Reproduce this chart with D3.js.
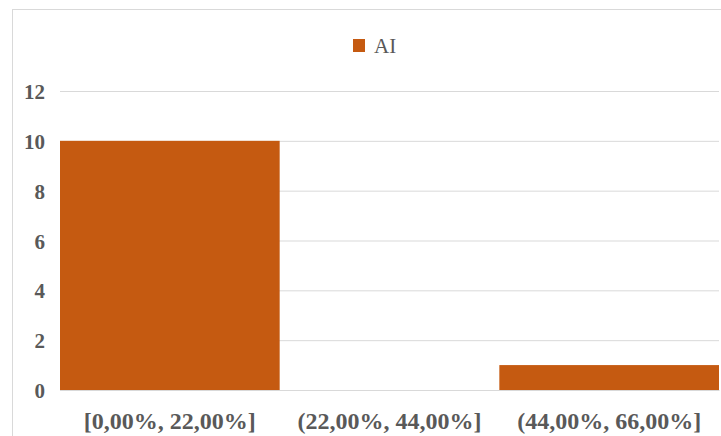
<!DOCTYPE html>
<html><head><meta charset="utf-8">
<script src="https://cdn.jsdelivr.net/npm/d3@7"></script>
<style>body{margin:0;background:#fff}svg{display:block}</style>
</head><body>
<script>
const categories = ["[0,00%, 22,00%]", "(22,00%, 44,00%]", "(44,00%, 66,00%]"];
const values = [10, 0, 1];
const seriesName = "AI";
const yTicks = [0, 2, 4, 6, 8, 10, 12];

(function () {
const W = 721, H = 436;
const svg = d3.select("body").append("svg").attr("width", W).attr("height", H);
const font = "'Liberation Serif','Times New Roman',serif";
const textColor = "#595959";
const barColor = "#C55A11";

// chart border
svg.append("rect").attr("x", 12.5).attr("y", 9.5).attr("width", W + 10).attr("height", H + 10)
  .attr("fill", "none").attr("stroke", "#d9d9d9").attr("stroke-width", 1);

const mLeft = 60, mRight = 719, mTop = 91, mBottom = 390;
const x = d3.scaleBand().domain(categories).range([mLeft, mRight]).paddingInner(0).paddingOuter(0);
const y = d3.scaleLinear().domain([0, 12]).range([mBottom, mTop]);

// gridlines
const yAxis = d3.axisLeft(y).tickValues(yTicks).tickSize(-(mRight - mLeft)).tickPadding(15);
const gy = svg.append("g").attr("transform", `translate(${mLeft},0)`).call(yAxis);
gy.select(".domain").remove();
gy.selectAll(".tick line").attr("stroke", "#d9d9d9").attr("stroke-width", 1);
gy.selectAll(".tick text").attr("fill", textColor).attr("font-family", font)
  .attr("font-size", 21).attr("font-weight", "bold").attr("dy", "0.36em");

// bars
svg.append("g").selectAll("rect").data(values).join("rect")
  .attr("x", (d, i) => x(categories[i]))
  .attr("width", x.bandwidth())
  .attr("y", d => y(d))
  .attr("height", d => y(0) - y(d))
  .attr("fill", barColor);

// baseline
const gx = svg.append("g").attr("transform", `translate(0,${mBottom})`)
  .call(d3.axisBottom(x).tickSize(0).tickPadding(22));
gx.select(".domain").attr("stroke", "#d9d9d9");
gx.selectAll(".tick text").attr("fill", textColor).attr("font-family", font)
  .attr("font-size", 24).attr("font-weight", "bold");

// legend
const lg = svg.append("g");
lg.append("rect").attr("x", 353).attr("y", 39).attr("width", 12).attr("height", 13).attr("fill", barColor);
lg.append("text").attr("x", 374).attr("y", 53).text(seriesName)
  .attr("fill", textColor).attr("font-family", font).attr("font-size", 21);
})();
</script>
</body></html>
